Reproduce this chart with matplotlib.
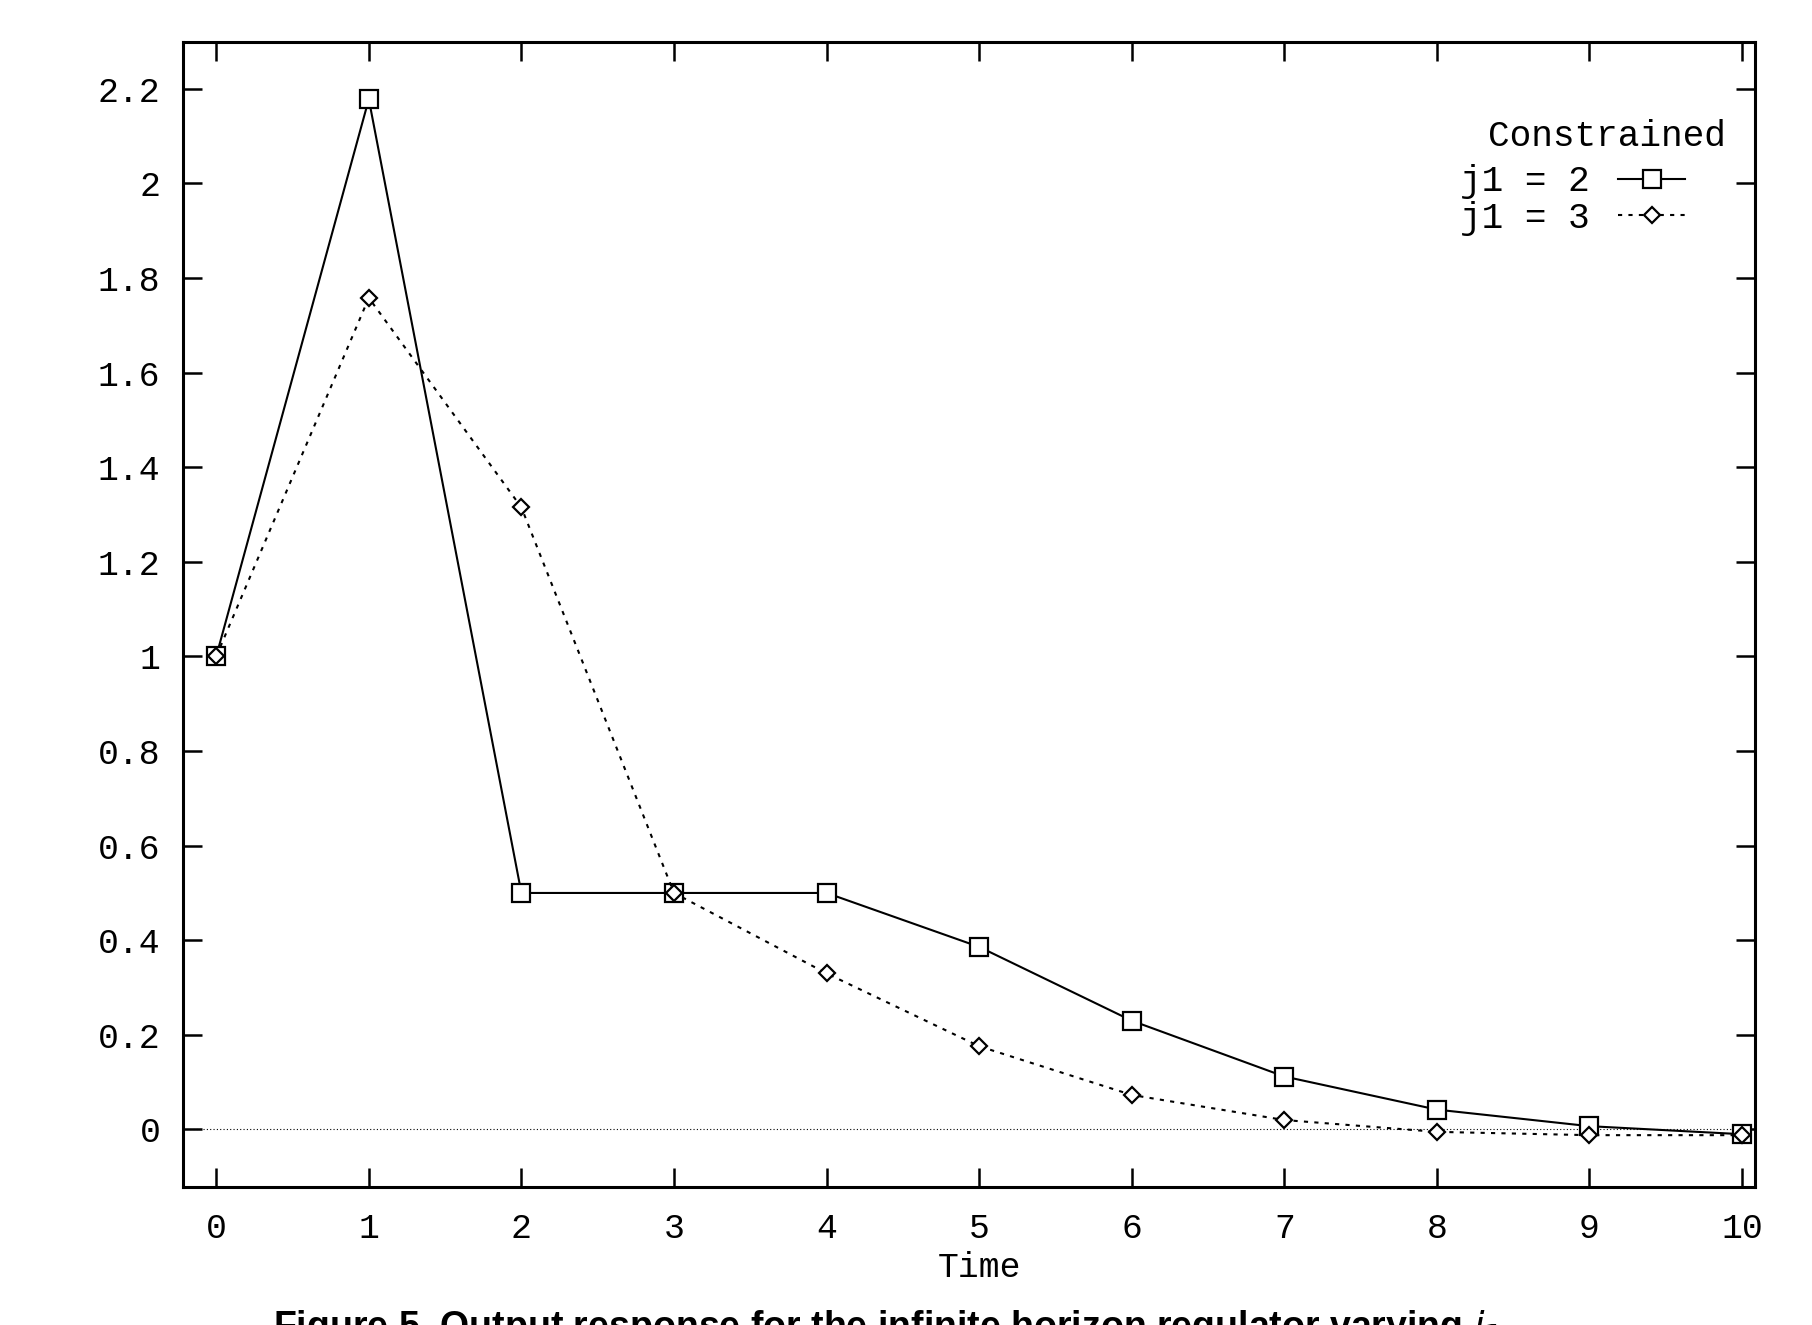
import matplotlib
matplotlib.use("Agg")
import matplotlib.pyplot as plt

# output response
time = [0, 1, 2, 3, 4, 5, 6, 7, 8, 9, 10]
y_j1_2 = [1.0, 2.178, 0.5, 0.5, 0.5, 0.386, 0.23, 0.112, 0.042, 0.007, -0.01]
y_j1_3 = [1.0, 1.758, 1.315, 0.5, 0.33, 0.176, 0.073, 0.02, -0.005, -0.012, -0.012]
yticks = [0, 0.2, 0.4, 0.6, 0.8, 1, 1.2, 1.4, 1.6, 1.8, 2, 2.2]
ytick_labels = ['0', '0.2', '0.4', '0.6', '0.8', '1', '1.2', '1.4', '1.6', '1.8', '2', '2.2']

mono = 'Liberation Mono'

fig = plt.figure(figsize=(18.12, 13.25), dpi=100)
ax = fig.add_axes([0.1008, 0.104, 0.8676, 0.864])

ax.axhline(0, color='black', lw=0.8, ls=(0, (1, 2)))
ax.plot(time, y_j1_2, color='black', lw=1.5, marker='s', ms=13,
        mfc='white', mec='black', mew=1.6, label='j1 = 2')
ax.plot(time, y_j1_3, color='black', lw=1.5, ls=(0, (2, 3)), marker='D', ms=8.5,
        mfc='white', mec='black', mew=1.6, label='j1 = 3')

ax.set_xlim(-0.22, 10.083)
ax.set_ylim(-0.122, 2.298)
ax.set_xticks(time)
ax.set_xticklabels([str(t) for t in time], fontsize=25, family=mono)
ax.set_yticks(yticks)
ax.set_yticklabels(ytick_labels, fontsize=25, family=mono)
ax.tick_params(axis='both', direction='in', length=14, width=1.8,
               top=True, right=True)
ax.tick_params(axis='x', pad=18)
ax.tick_params(axis='y', pad=16)
for s in ax.spines.values():
    s.set_linewidth(2.2)

ax.set_xlabel('Time', fontsize=25, family=mono, labelpad=4)
ax.xaxis.label.set_x((5 + 0.22) / (10.083 + 0.22))

leg = ax.legend(loc='upper right', bbox_to_anchor=(0.930, 0.876),
                bbox_transform=fig.transFigure, frameon=False,
                markerfirst=False, handlelength=1.85, handletextpad=0.8,
                labelspacing=0.05, borderpad=0, borderaxespad=0,
                prop={'family': mono, 'size': 26})
fig.text(0.8867, 0.897, 'Constrained', fontsize=26, family=mono,
         ha='center', va='center')

fig.text(0.49, 0.013, r'Figure 5. Output response for the infinite horizon regulator varying $\mathit{j}_\mathbf{1}$',
         fontsize=27, fontweight='bold', family='Liberation Sans',
         ha='center', va='top')

fig.savefig('out.png', dpi=100)
